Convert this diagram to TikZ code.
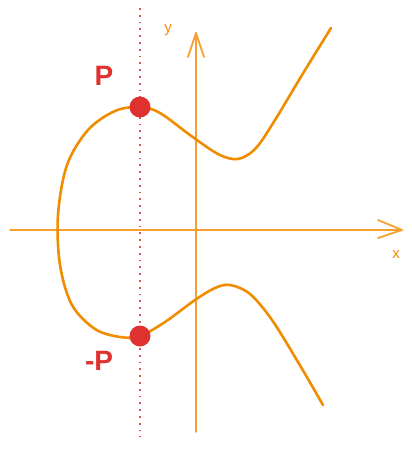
\documentclass[tikz,border=0pt]{standalone}
\usepackage{fontspec}
\setmainfont{Liberation Sans}
\definecolor{orng}{HTML}{F08C00}
\definecolor{axo}{HTML}{F5A030}
\definecolor{rd}{HTML}{E03131}
\begin{document}
\begin{tikzpicture}[x=1pt,y=-1pt,
  axis/.style={axo,line width=1.8pt,line cap=round,line join=round},
  curve/.style={orng,line width=2.6pt,line cap=round,line join=round},
  pt/.style={circle,fill=rd,inner sep=0pt,minimum size=21pt},
  lbl/.style={text=rd,font=\fontsize{28}{28}\selectfont\bfseries},
  albl/.style={text=orng,font=\fontsize{15}{15}\selectfont}]
\useasboundingbox (0,0) rectangle (412,450);
\fill[white] (0,0) rectangle (412,450);
% dotted vertical line
\coordinate (vt) at (140,8);
\coordinate (vb) at (140,437);
\draw[rd!85,line width=1.8pt,dash pattern=on 1.8pt off 5pt] (vt) -- (vb);
% axes
\coordinate (xl) at (10,230);
\coordinate (xr) at (402,230);
\coordinate (yb) at (196,432);
\coordinate (yt) at (196,33);
\draw[axis] (xl) -- (xr);
\draw[axis] (378,220) -- (xr) -- (378,238);
\draw[axis] (yb) -- (yt);
\draw[axis] (188,57) -- (yt) -- (204,57);
\node[albl] (ylab) at (168,30) {y};
\node[albl] (xlab) at (396,255) {x};
% curve
\draw[curve] plot[smooth,tension=0.55] coordinates {
 (331,28) (302,75) (275,120) (256,148) (238,159) (218,154) (190,135) (160,113) (140,107)
 (115,111) (88,130) (67,165) (58,215) (60,265) (72,305) (95,329) (120,337) (140,336)
 (165,322) (195,300) (215,288) (230,285) (250,294) (272,320) (298,362) (323,405)};
\node[pt] (P) at (140,107) {};
\node[pt] (mP) at (140,336) {};
\node[lbl] (Pl) at (104,76) {P};
\node[lbl] (mPl) at (99,361) {-P};
\end{tikzpicture}
\end{document}
